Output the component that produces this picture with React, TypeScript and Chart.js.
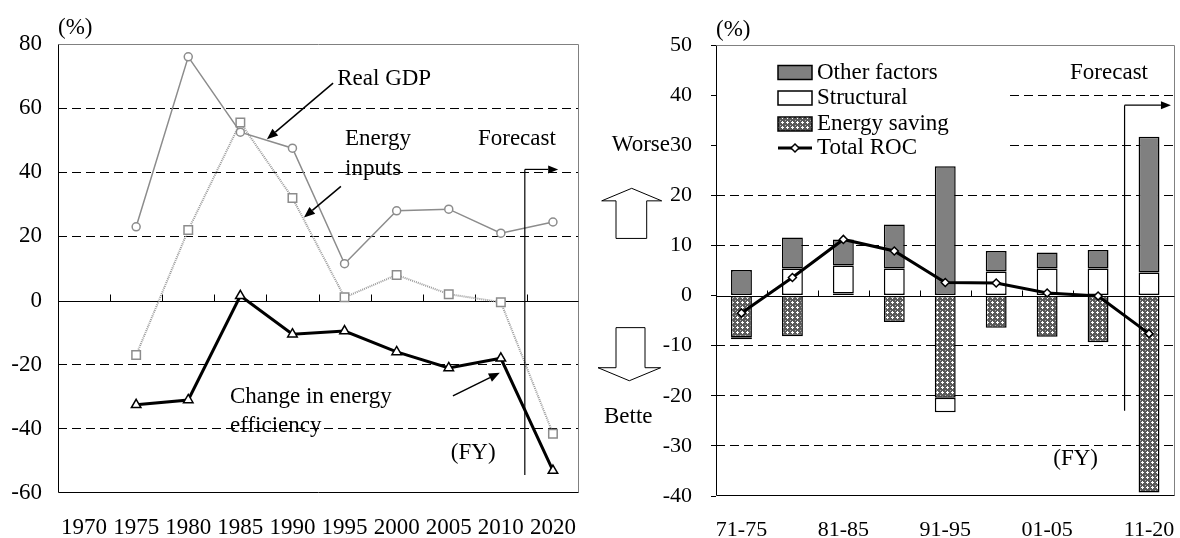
import React, { useEffect, useRef } from 'react';
import { Chart, registerables } from 'chart.js';
Chart.register(...registerables);

const FONT = "'Liberation Serif', 'Times New Roman', serif";

// ---------- Left chart data ----------
const years = ['1970', '1975', '1980', '1985', '1990', '1995', '2000', '2005', '2010', '2020'];
const realGdp = [null, 23, 76, 52.5, 47.5, 11.5, 28, 28.5, 21, 24.5];
const energyInputs = [null, -17, 22, 55.5, 32, 1, 8, 2, -0.5, -41.5];
const efficiencyChange = [null, -32.5, -31, 1.5, -10.5, -9.5, -16, -21, -18, -53];

// ---------- Right chart data ----------
const periods = ['71-75', '76-80', '81-85', '86-90', '91-95', '96-00', '01-05', '06-10', '11-20'];
const energySaving = [-8.3, -8.1, 0.4, -5.3, -20.4, -6.4, -8.2, -9.3, -39.3];
const structural = [-0.4, 5.4, 5.6, 5.4, -2.9, 4.8, 5.4, 5.4, 4.6];
const otherFactors = [5.1, 6.2, 5.2, 8.8, 25.8, 4.1, 3.2, 3.7, 27.1];
const totalRoc = [-3.5, 3.6, 11.2, 8.9, 2.6, 2.5, 0.5, -0.1, -7.6];

const legendLabels = ['Other factors', 'Structural', 'Energy saving', 'Total ROC'];

function makePattern(): CanvasPattern | string {
  const c = document.createElement('canvas');
  c.width = 5;
  c.height = 5;
  const g = c.getContext('2d');
  if (!g) return '#999';
  g.fillStyle = '#5a5a5a';
  g.fillRect(0, 0, 5, 5);
  g.fillStyle = '#ffffff';
  g.fillRect(2, 1, 1, 3);
  g.fillRect(1, 2, 3, 1);
  g.fillStyle = '#b0b0b0';
  g.fillRect(0, 0, 1, 1);
  return g.createPattern(c, 'repeat') || '#999';
}

function arrow(ctx: CanvasRenderingContext2D, x1: number, y1: number, x2: number, y2: number, head = 11, w = 4.5, lw = 1.5) {
  ctx.save();
  ctx.strokeStyle = '#000';
  ctx.fillStyle = '#000';
  ctx.lineWidth = lw;
  const a = Math.atan2(y2 - y1, x2 - x1);
  const bx = x2 - head * Math.cos(a);
  const by = y2 - head * Math.sin(a);
  ctx.beginPath();
  ctx.moveTo(x1, y1);
  ctx.lineTo(bx, by);
  ctx.stroke();
  ctx.beginPath();
  ctx.moveTo(x2, y2);
  ctx.lineTo(bx + w * Math.sin(a), by - w * Math.cos(a));
  ctx.lineTo(bx - w * Math.sin(a), by + w * Math.cos(a));
  ctx.closePath();
  ctx.fill();
  ctx.restore();
}

function P(chart: any, i: number, v: number): [number, number] {
  return [chart.scales.x.getPixelForValue(i), chart.scales.y.getPixelForValue(v)];
}

function text(ctx: CanvasRenderingContext2D, s: string, x: number, y: number, align: CanvasTextAlign = 'left', size = 23) {
  ctx.save();
  ctx.font = `${size}px ${FONT}`;
  ctx.fillStyle = '#000';
  ctx.textAlign = align;
  ctx.textBaseline = 'middle';
  ctx.fillText(s, x, y);
  ctx.restore();
}

function frameAndZero(chart: any, n: number, tickLen: number) {
  const { ctx, chartArea: a, scales } = chart;
  const y = scales.y;
  const x = scales.x;
  const L = Math.round(a.left) + 0.5;
  const R = Math.round(a.right) - 0.5;
  const T = Math.round(a.top) + 0.5;
  const B = Math.round(a.bottom) - 0.5;
  const y0 = Math.round(y.getPixelForValue(0)) + 0.5;
  ctx.save();
  ctx.lineWidth = 1;
  ctx.strokeStyle = '#808080';
  ctx.beginPath();
  ctx.moveTo(L, T);
  ctx.lineTo(R, T);
  ctx.lineTo(R, B);
  ctx.stroke();
  ctx.strokeStyle = '#000';
  ctx.beginPath();
  ctx.moveTo(L, T);
  ctx.lineTo(L, B);
  ctx.lineTo(R, B);
  ctx.stroke();
  ctx.beginPath();
  ctx.moveTo(L, y0);
  ctx.lineTo(R, y0);
  for (let i = 1; i < n; i++) {
    const xb = Math.round((x.getPixelForValue(i - 1) + x.getPixelForValue(i)) / 2) + 0.5;
    ctx.moveTo(xb, y0);
    ctx.lineTo(xb, y0 - tickLen);
  }
  ctx.stroke();
  ctx.restore();
}

const leftPlugin = {
  id: 'leftDeco',
  beforeDatasetsDraw(chart: any) {
    frameAndZero(chart, years.length, 7);
  },
  afterDatasetsDraw(chart: any) {
    const { ctx, chartArea: a } = chart;
    text(ctx, '(%)', a.left, a.top - 16);
    let p = P(chart, 4.86, 69);
    text(ctx, 'Real GDP', p[0], p[1]);
    let s = P(chart, 4.78, 67.8), e = P(chart, 3.51, 50.3);
    arrow(ctx, s[0], s[1], e[0], e[1]);
    p = P(chart, 5.01, 50.3);
    text(ctx, 'Energy', p[0], p[1]);
    p = P(chart, 5.01, 40.9);
    text(ctx, 'inputs', p[0], p[1]);
    s = P(chart, 4.93, 35.6); e = P(chart, 4.22, 25.9);
    arrow(ctx, s[0], s[1], e[0], e[1]);
    p = P(chart, 7.56, 50.3);
    text(ctx, 'Forecast', p[0], p[1]);
    const t = P(chart, 8.46, 40.9), b = P(chart, 8.46, -54.4), h = P(chart, 9.1, 40.9);
    ctx.save();
    ctx.strokeStyle = '#000';
    ctx.lineWidth = 1.2;
    ctx.beginPath();
    ctx.moveTo(t[0], b[1]);
    ctx.lineTo(t[0], t[1]);
    ctx.stroke();
    ctx.restore();
    arrow(ctx, t[0], t[1], h[0], h[1], 10, 4, 1.2);
    p = P(chart, 7.04, -47.5);
    text(ctx, '(FY)', p[0], p[1]);
    p = P(chart, 2.8, -29.9);
    text(ctx, 'Change in energy', p[0], p[1]);
    p = P(chart, 2.8, -39);
    text(ctx, 'efficiency', p[0], p[1]);
    s = P(chart, 7.08, -29.7); e = P(chart, 7.98, -22.5);
    arrow(ctx, s[0], s[1], e[0], e[1]);
  },
};

function makeRightPlugin(pattern: CanvasPattern | string) {
  return {
    id: 'rightDeco',
    beforeDatasetsDraw(chart: any) {
      const { ctx, chartArea: a } = chart;
      ctx.save();
      ctx.fillStyle = '#fff';
      ctx.fillRect(a.left + 1, a.top + 1, 291, 111);
      ctx.restore();
      frameAndZero(chart, periods.length, 6);
    },
    afterDatasetsDraw(chart: any) {
      const { ctx, chartArea: a, scales } = chart;
      const y = scales.y;
      text(ctx, '(%)', a.left, a.top - 15);
      const sx = a.left + 62;
      const rows = [27.5, 53, 79, 103];
      const fills: (string | CanvasPattern)[] = ['#808080', '#ffffff', pattern];
      ctx.save();
      for (let k = 0; k < 3; k++) {
        const cy = a.top + rows[k];
        ctx.fillStyle = fills[k] as any;
        ctx.fillRect(sx, cy - 7, 34, 14);
        ctx.strokeStyle = '#000';
        ctx.lineWidth = 1.5;
        ctx.strokeRect(sx, cy - 7, 34, 14);
      }
      const ly = a.top + rows[3];
      ctx.strokeStyle = '#000';
      ctx.lineWidth = 3;
      ctx.beginPath();
      ctx.moveTo(sx, ly);
      ctx.lineTo(sx + 34, ly);
      ctx.stroke();
      ctx.fillStyle = '#fff';
      ctx.lineWidth = 1.5;
      ctx.beginPath();
      ctx.moveTo(sx + 17, ly - 4);
      ctx.lineTo(sx + 21, ly);
      ctx.lineTo(sx + 17, ly + 4);
      ctx.lineTo(sx + 13, ly);
      ctx.closePath();
      ctx.fill();
      ctx.stroke();
      ctx.restore();
      for (let k = 0; k < 4; k++) text(ctx, legendLabels[k], sx + 39, a.top + rows[k]);

      let p = P(chart, 6.45, 44.5);
      text(ctx, 'Forecast', p[0], p[1]);
      const t = P(chart, 7.52, 38), b = P(chart, 7.52, -23), h = P(chart, 8.43, 38);
      ctx.save();
      ctx.strokeStyle = '#000';
      ctx.lineWidth = 1.2;
      ctx.beginPath();
      ctx.moveTo(t[0], b[1]);
      ctx.lineTo(t[0], t[1]);
      ctx.stroke();
      ctx.restore();
      arrow(ctx, t[0], t[1], h[0], h[1], 10, 4, 1.2);
      p = P(chart, 6.12, -32.7);
      text(ctx, '(FY)', p[0], p[1]);

      const L = a.left;
      text(ctx, 'Worse', L - 46, y.getPixelForValue(30), 'right');
      ctx.save();
      ctx.fillStyle = '#fff';
      ctx.strokeStyle = '#000';
      ctx.lineWidth = 1;
      const tip = y.getPixelForValue(21.4), hb = y.getPixelForValue(18.9), bot = y.getPixelForValue(11.4);
      ctx.beginPath();
      ctx.moveTo(L - 84.3, tip);
      ctx.lineTo(L - 54.3, hb);
      ctx.lineTo(L - 69.3, hb);
      ctx.lineTo(L - 69.3, bot);
      ctx.lineTo(L - 100, bot);
      ctx.lineTo(L - 100, hb);
      ctx.lineTo(L - 114.3, hb);
      ctx.closePath();
      ctx.fill();
      ctx.stroke();
      const top2 = y.getPixelForValue(-6.4), hb2 = y.getPixelForValue(-14.4), tip2 = y.getPixelForValue(-17);
      ctx.beginPath();
      ctx.moveTo(L - 100, top2);
      ctx.lineTo(L - 71, top2);
      ctx.lineTo(L - 71, hb2);
      ctx.lineTo(L - 55.3, hb2);
      ctx.lineTo(L - 86.7, tip2);
      ctx.lineTo(L - 118, hb2);
      ctx.lineTo(L - 100, hb2);
      ctx.closePath();
      ctx.fill();
      ctx.stroke();
      ctx.restore();
      text(ctx, 'Bette', L - 87.7, y.getPixelForValue(-24.3), 'center');
    },
  };
}

function gridColor(min: number, max: number) {
  return (c: any) => {
    const v = c.tick ? c.tick.value : NaN;
    return v === 0 || v === min || v === max ? 'rgba(0,0,0,0)' : '#000';
  };
}

const hiddenTickGrid = {
  display: true,
  drawOnChartArea: false,
  drawTicks: true,
  tickLength: 21,
  tickColor: 'rgba(0,0,0,0)',
  color: 'rgba(0,0,0,0)',
};

export default function App() {
  const leftRef = useRef<HTMLCanvasElement>(null);
  const rightRef = useRef<HTMLCanvasElement>(null);

  useEffect(() => {
    const pattern = makePattern();
    const c1 = new Chart(leftRef.current as HTMLCanvasElement, {
      type: 'line',
      data: {
        labels: years,
        datasets: [
          {
            label: 'Real GDP',
            data: realGdp,
            borderColor: '#8c8c8c',
            borderWidth: 1.5,
            pointStyle: 'circle',
            pointRadius: 4,
            pointBackgroundColor: '#fff',
            pointBorderColor: '#8c8c8c',
            pointBorderWidth: 1.5,
            tension: 0,
          },
          {
            label: 'Energy inputs',
            data: energyInputs,
            borderColor: '#9a9a9a',
            borderWidth: 2,
            borderDash: [1, 1],
            pointStyle: 'rect',
            pointRadius: 6,
            pointBackgroundColor: '#fff',
            pointBorderColor: '#8c8c8c',
            pointBorderWidth: 1.5,
            tension: 0,
          },
          {
            label: 'Change in energy efficiency',
            data: efficiencyChange,
            borderColor: '#000',
            borderWidth: 3,
            pointStyle: 'triangle',
            pointRadius: 5.5,
            pointBackgroundColor: '#fff',
            pointBorderColor: '#000',
            pointBorderWidth: 1.5,
            tension: 0,
          },
        ],
      } as any,
      options: {
        responsive: false,
        animation: false,
        events: [],
        layout: { padding: { top: 44, right: 11, bottom: 0, left: 0 } },
        plugins: { legend: { display: false }, tooltip: { enabled: false } },
        scales: {
          x: {
            offset: true,
            grid: hiddenTickGrid,
            border: { display: false },
            ticks: { autoSkip: false, maxRotation: 0, minRotation: 0, padding: 0, color: '#000', font: { family: FONT, size: 23 } },
            afterFit: (s: any) => { s.height = 45; },
          },
          y: {
            min: -60,
            max: 80,
            grid: { color: gridColor(-60, 80), lineWidth: 1, drawTicks: false },
            border: { display: false, dash: [9, 5] },
            ticks: { stepSize: 20, padding: 16, color: '#000', font: { family: FONT, size: 23 } },
            afterFit: (s: any) => { s.width = 58; },
          },
        },
      } as any,
      plugins: [leftPlugin],
    });

    const c2 = new Chart(rightRef.current as HTMLCanvasElement, {
      type: 'bar',
      data: {
        labels: periods,
        datasets: [
          {
            type: 'line',
            label: 'Total ROC',
            data: totalRoc,
            stack: 'roc',
            order: 0,
            borderColor: '#000',
            borderWidth: 3,
            pointStyle: 'rectRot',
            pointRadius: 4,
            pointBackgroundColor: '#fff',
            pointBorderColor: '#000',
            pointBorderWidth: 1.5,
            tension: 0,
          },
          {
            label: 'Energy saving',
            data: energySaving,
            stack: 'f',
            order: 1,
            backgroundColor: pattern,
            borderColor: '#000',
            borderWidth: 1.5,
            borderSkipped: false,
            barPercentage: 0.41,
            categoryPercentage: 1,
          },
          {
            label: 'Structural',
            data: structural,
            stack: 'f',
            order: 1,
            backgroundColor: '#fff',
            borderColor: '#000',
            borderWidth: 1.5,
            borderSkipped: false,
            barPercentage: 0.41,
            categoryPercentage: 1,
          },
          {
            label: 'Other factors',
            data: otherFactors,
            stack: 'f',
            order: 1,
            backgroundColor: '#808080',
            borderColor: '#000',
            borderWidth: 1.5,
            borderSkipped: false,
            barPercentage: 0.41,
            categoryPercentage: 1,
          },
        ],
      } as any,
      options: {
        responsive: false,
        animation: false,
        events: [],
        layout: { padding: { top: 45, right: 2, bottom: 0, left: 0 } },
        plugins: { legend: { display: false }, tooltip: { enabled: false } },
        scales: {
          x: {
            stacked: true,
            grid: hiddenTickGrid,
            border: { display: false },
            ticks: {
              autoSkip: false,
              maxRotation: 0,
              minRotation: 0,
              padding: 0,
              color: '#000',
              font: { family: FONT, size: 22 },
              callback: (_v: any, i: number) => (i % 2 === 0 ? periods[i] : ''),
            },
            afterFit: (s: any) => { s.height = 42; },
          },
          y: {
            stacked: true,
            min: -40,
            max: 50,
            grid: { color: gridColor(-40, 50), lineWidth: 1, drawTicks: true, tickLength: 5, tickColor: '#000', tickWidth: 1, tickBorderDash: [] },
            border: { display: false, dash: [9, 5] },
            ticks: { stepSize: 10, padding: 19, color: '#000', font: { family: FONT, size: 22 } },
            afterFit: (s: any) => { s.width = 126; },
          },
        },
      } as any,
      plugins: [makeRightPlugin(pattern)],
    });

    return () => {
      c1.destroy();
      c2.destroy();
    };
  }, []);

  return (
    <div style={{ position: 'absolute', left: 0, top: 0, width: 1180, height: 538, background: '#fff' }}>
      <canvas ref={leftRef} width={590} height={538} style={{ position: 'absolute', left: 0, top: 0 }} />
      <canvas ref={rightRef} width={590} height={538} style={{ position: 'absolute', left: 590, top: 0 }} />
    </div>
  );
}
